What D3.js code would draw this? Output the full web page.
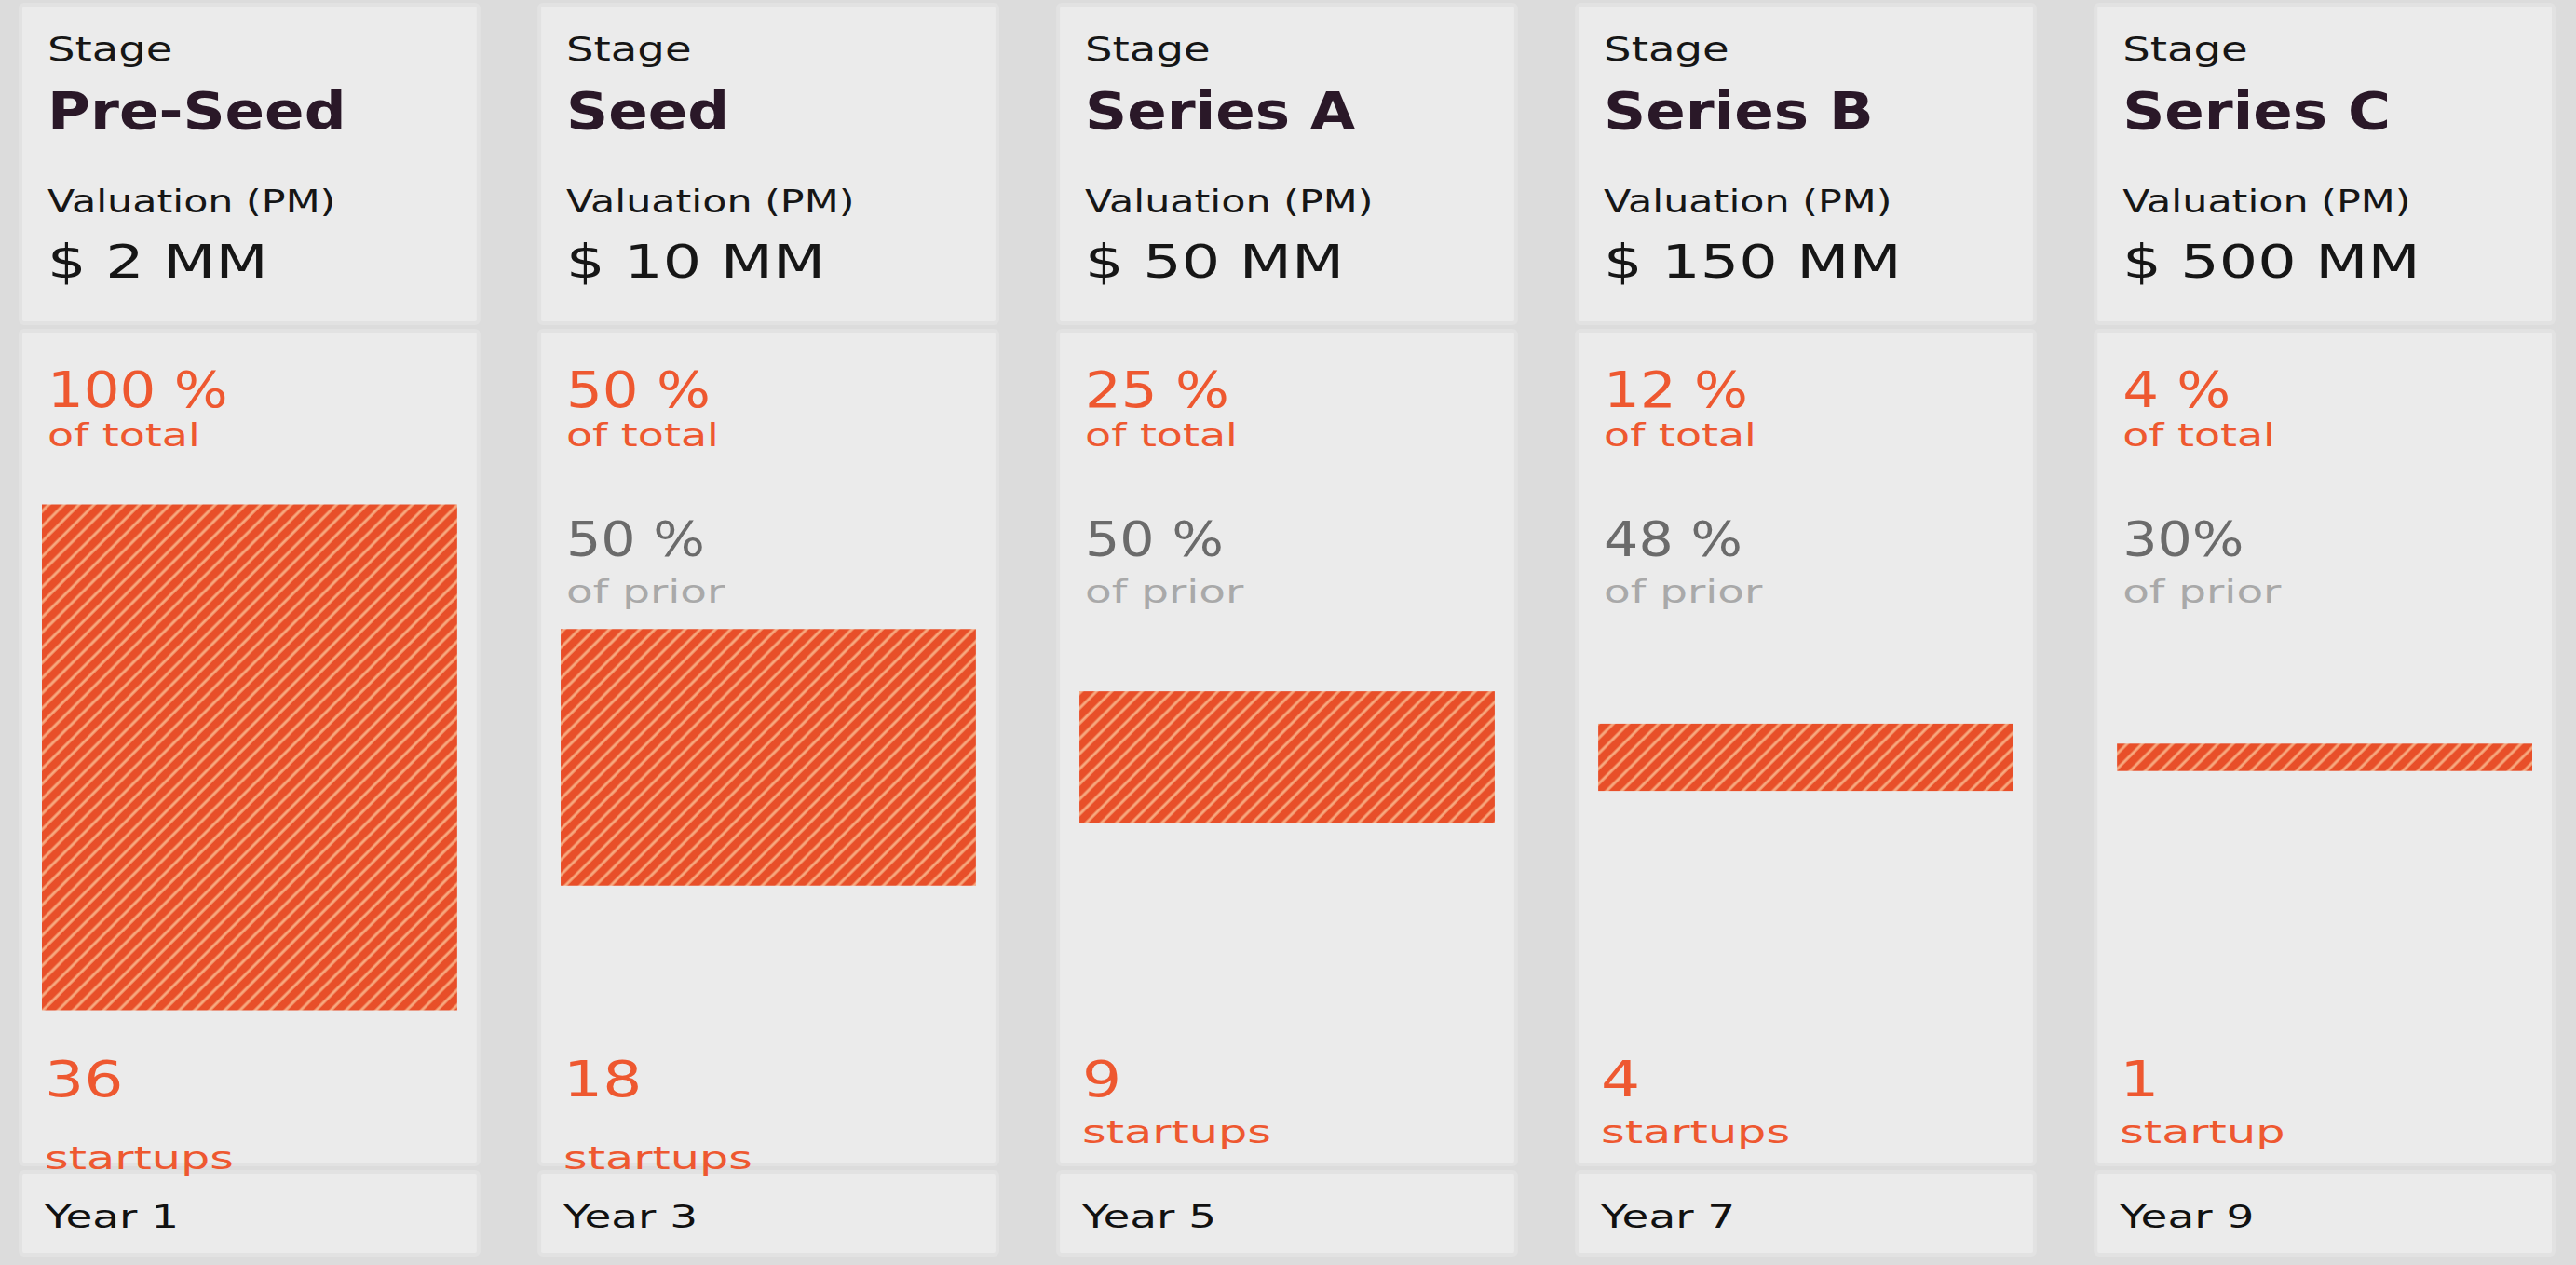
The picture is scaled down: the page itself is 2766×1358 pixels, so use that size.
<!DOCTYPE html>
<html>
<head>
<meta charset="utf-8">
<script src="https://cdn.jsdelivr.net/npm/d3@7"></script>
<style>
  html, body { margin: 0; padding: 0; background: #dcdcdc; }
  svg { display: block; }
  text { font-family: 'DejaVu Sans', sans-serif; }
</style>
</head>
<body>
<div class="container"></div>
<script>
const stages = ['Pre-Seed', 'Seed', 'Series A', 'Series B', 'Series C'];
const valuations = ['$ 2 MM', '$ 10 MM', '$ 50 MM', '$ 150 MM', '$ 500 MM'];
const pctOfTotal = [100, 50, 25, 12, 4];
const priorLabels = [null, '50 %', '50 %', '48 %', '30%'];
const startups = [36, 18, 9, 4, 1];
const years = [1, 3, 5, 7, 9];

const data = stages.map((s, i) => ({
  stage: s,
  valuation: valuations[i],
  total: pctOfTotal[i],
  prior: priorLabels[i],
  count: startups[i],
  year: years[i]
}));

const width = 2766;
const height = 1358;
const orange = '#ee5830';

const renderCards = () => {
  const svg = d3.select('.container').append('svg').attr('width', width).attr('height', height);
  svg.append('rect').attr('width', width).attr('height', height).attr('fill', '#dcdcdc');

  const defs = svg.append('defs');
  const hatch = defs
    .append('pattern')
    .attr('id', 'hatch')
    .attr('patternUnits', 'userSpaceOnUse')
    .attr('width', 11.5)
    .attr('height', 11.5)
    .attr('patternTransform', 'rotate(45)');
  hatch.append('rect').attr('width', 11.5).attr('height', 11.5).attr('fill', '#e84f29');
  hatch.append('line').attr('x1', 2).attr('x2', 2).attr('y1', 0).attr('y2', 11.5)
    .attr('stroke', '#f7a87e').attr('stroke-width', 3);

  const xScale = d3.scaleBand().domain(stages).range([22, 2742]).paddingInner(0.117);
  const bw = xScale.bandwidth();

  // bar height from share of total, bars are centred in the body card
  const hScale = d3.scaleLinear().domain([0, 100]).range([8, 543]);
  const barCenter = 813;

  const col = svg.selectAll('g.col').data(data).enter().append('g')
    .attr('class', 'col')
    .attr('transform', d => `translate(${xScale(d.stage)},0)`);

  const card = (y, h) => col.append('rect')
    .attr('x', 0).attr('y', y).attr('width', bw).attr('height', h)
    .attr('rx', 4)
    .attr('fill', '#ebebeb').attr('stroke', '#e2e2e2').attr('stroke-width', 4);

  card(5, 342);
  card(355, 895);
  card(1258, 89);

  const label = (x, y, text, size, sx, fill, weight) => col.append('text')
    .attr('transform', `translate(${x},${y}) scale(${sx},1)`)
    .attr('font-size', size)
    .attr('font-weight', weight || 'normal')
    .attr('fill', fill)
    .text(text);

  label(29, 65, 'Stage', 35, 1.33, '#161616');
  label(29, 138, d => d.stage, 56, 1.12, '#2a1828', 'bold');
  label(29, 228, 'Valuation (PM)', 34, 1.26, '#161616');
  label(29, 298, d => d.valuation, 49, 1.33, '#161616');

  label(29, 437, d => `${d.total} %`, 53, 1.15, orange);
  label(29, 479, 'of total', 34, 1.35, orange);

  const withPrior = col.filter(d => d.prior);
  withPrior.append('text')
    .attr('transform', 'translate(29,597) scale(1.15,1)')
    .attr('font-size', 51).attr('fill', '#6b6b6b')
    .text(d => d.prior);
  withPrior.append('text')
    .attr('transform', 'translate(29,647) scale(1.38,1)')
    .attr('font-size', 34).attr('fill', '#a9a9a9')
    .text('of prior');

  col.append('rect')
    .attr('x', 23)
    .attr('width', bw - 46)
    .attr('y', d => barCenter - hScale(d.total) / 2)
    .attr('height', d => hScale(d.total))
    .attr('fill', 'url(#hatch)');

  label(26, 1177, d => d.count, 53, 1.25, orange);
  col.append('text')
    .attr('transform', d => `translate(26,${d.count >= 10 ? 1255 : 1227}) scale(1.45,1)`)
    .attr('font-size', 34).attr('fill', orange)
    .text(d => (d.count === 1 ? 'startup' : 'startups'));

  label(26, 1318, d => `Year ${d.year}`, 34, 1.38, '#111');
};

renderCards();
</script>
</body>
</html>
